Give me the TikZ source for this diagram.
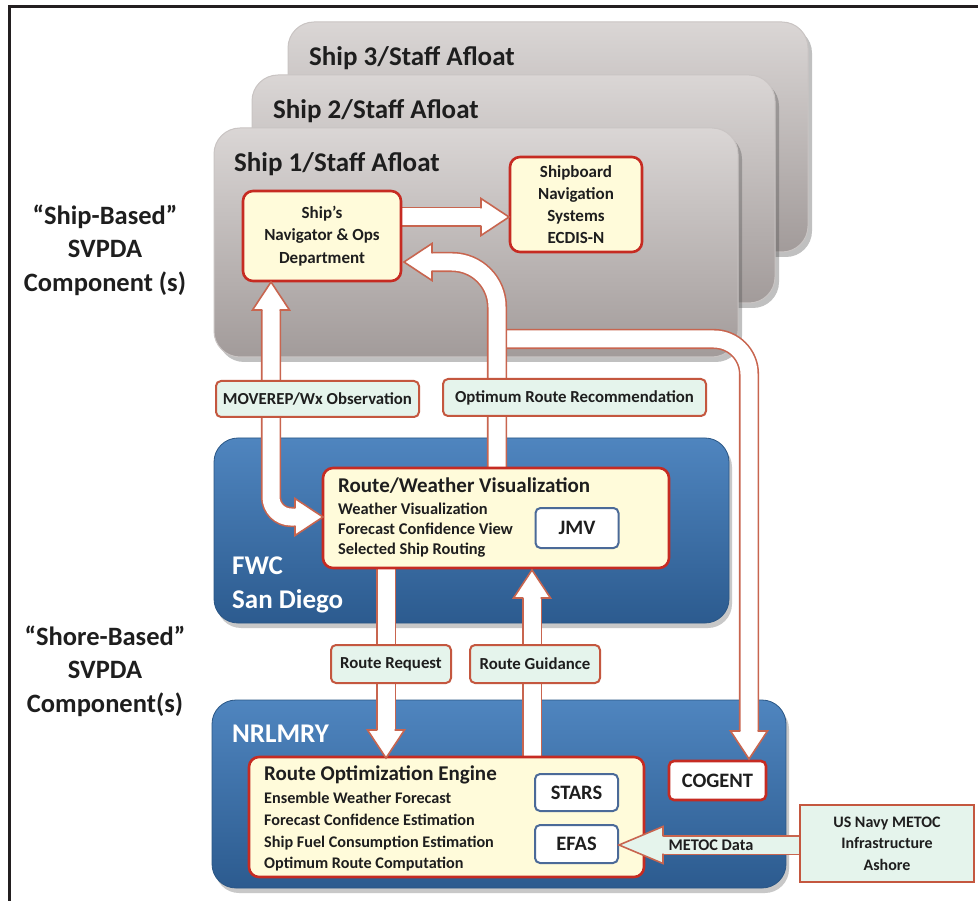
\documentclass[tikz,border=0pt]{standalone}
\usepackage{fontspec}
\setmainfont{Carlito}
\usetikzlibrary{shadows}
\definecolor{shiptop}{HTML}{DAD6D5}
\definecolor{shipbot}{HTML}{A29B9A}
\definecolor{shipedge}{HTML}{C9C4C3}
\definecolor{bluetop}{HTML}{4F85BF}
\definecolor{bluebot}{HTML}{2C5B8F}
\definecolor{blueedge}{HTML}{2A5685}
\definecolor{cream}{HTML}{FFFBDA}
\definecolor{boxred}{HTML}{C62B22}
\definecolor{lblred}{HTML}{C4573F}
\definecolor{mint}{HTML}{E5F4EC}
\definecolor{arrowred}{HTML}{C8654F}
\definecolor{toolblue}{HTML}{4B6A98}
\definecolor{ink}{HTML}{1E1E1E}
\definecolor{framecol}{HTML}{231F20}
\tikzset{
  shipbox/.style={rounded corners=26pt, top color=shiptop, bottom color=shipbot, draw=shipedge, line width=1pt, inner sep=0pt, outer sep=0pt, anchor=north west,
    drop shadow={shadow xshift=4pt, shadow yshift=-5pt, opacity=0.35, fill=black!70}},
  bluebox/.style={rounded corners=24pt, top color=bluetop, bottom color=bluebot, draw=blueedge, line width=0.8pt, inner sep=0pt, outer sep=0pt, anchor=north west,
    drop shadow={shadow xshift=3pt, shadow yshift=-5pt, opacity=0.3, fill=black!70}},
  yelbox/.style={rounded corners=10pt, fill=cream, draw=boxred, line width=2.6pt, inner sep=0pt, outer sep=0pt, text=ink, align=center},
  lblbox/.style={rounded corners=5pt, fill=mint, draw=lblred, line width=2pt, inner sep=0pt, outer sep=0pt, text=ink, font=\fontsize{16.8}{20}\selectfont\bfseries},
  toolbox/.style={rounded corners=5pt, fill=white, draw=toolblue, line width=2pt, inner sep=0pt, outer sep=0pt, text=ink, font=\fontsize{20.5}{24}\selectfont\bfseries},
  shiptitle/.style={text=ink, inner sep=0pt, font=\fontsize{27}{30}\selectfont\bfseries},
  sidetext/.style={text=ink, inner sep=0pt, align=center, font=\fontsize{26.5}{33.5}\selectfont\bfseries},
  whitetext/.style={text=white, inner sep=0pt, align=left, font=\fontsize{27}{34}\selectfont\bfseries},
  boxtitle/.style={text=ink, inner sep=0pt, font=\fontsize{21}{24}\selectfont\bfseries},
  boxlines/.style={text=ink, inner sep=0pt, align=left, font=\fontsize{16.4}{20}\selectfont\bfseries},
  shaft/.style={draw=arrowred, line width=1.6pt, double=white, double distance=17pt},
  mshaft/.style={draw=arrowred, line width=1.6pt, double=mint, double distance=17pt},
  bhead/.pic={
    \fill[white] (-28,-8.7) -- (-28,-18.5) -- (0,0) -- (-28,18.5) -- (-28,8.7) -- cycle;
    \draw[arrowred, line width=1.6pt, line join=miter] (-28,-8.6) -- (-28,-18.5) -- (0,0) -- (-28,18.5) -- (-28,8.6);
  },
  mhead/.pic={
    \fill[mint] (-44,-8.7) -- (-44,-18.5) -- (0,0) -- (-44,18.5) -- (-44,8.7) -- cycle;
    \draw[arrowred, line width=1.6pt, line join=miter] (-44,-8.6) -- (-44,-18.5) -- (0,0) -- (-44,18.5) -- (-44,8.6);
  }
}
\begin{document}
\begin{tikzpicture}[x=1pt,y=-1pt]
\useasboundingbox (0,0) rectangle (978,901);
\fill[white] (0,0) rectangle (978,901);
\draw[line width=3pt, framecol] (978,7) -- (9,7) -- (9,901);

% side captions
\node[sidetext] (shiplbl) at (105,250) {“Ship-Based”\\SVPDA\\Component (s)};
\node[sidetext] (shorelbl) at (105,671) {“Shore-Based”\\SVPDA\\Component(s)};

% ship boxes
\node[shipbox, minimum width=520pt, minimum height=230pt] (ship3) at (288,22) {};
\node[shiptitle, anchor=base west] (ship3t) at (309,66) {Ship 3/Staff Afloat};
\node[shipbox, minimum width=523pt, minimum height=228pt] (ship2) at (252,75) {};
\node[shiptitle, anchor=base west] (ship2t) at (273,119) {Ship 2/Staff Afloat};
\node[shipbox, minimum width=524pt, minimum height=229pt] (ship1) at (214,128) {};
\node[shiptitle, anchor=base west] (ship1t) at (234,172) {Ship 1/Staff Afloat};

% shore boxes
\node[bluebox, minimum width=515pt, minimum height=185pt] (fwc) at (214,438) {};
\node[whitetext, anchor=west] (fwct) at (232,585) {FWC\\San Diego};
\node[bluebox, minimum width=574pt, minimum height=188pt] (nrl) at (212,700) {};
\node[whitetext, anchor=base west] (nrlt) at (232,742) {NRLMRY};

% arrow shafts
\coordinate (cogstart) at (497,339);
\draw[shaft, rounded corners=35pt] (cogstart) -- (749,339) -- (749,732);
\draw[shaft, rounded corners=45pt] (497,470) -- (497,262) -- (432,262);
\draw[shaft, rounded corners=20pt] (271,309) -- (271,517) -- (296,517);
\draw[shaft] (401,217) -- (482,217);
\draw[shaft] (386,568) -- (386,731);
\draw[shaft] (532,757) -- (532,596);
\draw[mshaft] (800,845) -- (662,845);

% ship boxes contents
\node[yelbox, minimum width=158pt, minimum height=90pt, anchor=north west, font=\fontsize{17}{22.5}\selectfont\bfseries] (nav) at (243,191) {Ship’s\\Navigator \& Ops\\Department};
\node[yelbox, minimum width=132pt, minimum height=95pt, anchor=north west, font=\fontsize{17}{22}\selectfont\bfseries] (sbn) at (510,157) {Shipboard\\Navigation\\Systems\\ECDIS-N};

% FWC contents
\node[yelbox, minimum width=346pt, minimum height=100pt, anchor=north west] (rw) at (323,468) {};
\node[boxtitle, anchor=base west] (rwt) at (338,492) {Route/Weather Visualization};
\node[boxlines, anchor=west] (rwl) at (338,530) {Weather Visualization\\Forecast Confidence View\\Selected Ship Routing};
\node[toolbox, minimum width=83pt, minimum height=40pt] (jmv) at (577,528) {JMV};

% NRLMRY contents
\node[yelbox, minimum width=395pt, minimum height=120pt, anchor=north west] (roe) at (249,757) {};
\node[boxtitle, anchor=base west] (roet) at (264,780) {Route Optimization Engine};
\node[boxlines, anchor=west, font=\fontsize{16.2}{21.7}\selectfont\bfseries] (roel) at (264,832) {Ensemble Weather Forecast\\Forecast Confidence Estimation\\Ship Fuel Consumption Estimation\\Optimum Route Computation};
\node[toolbox, minimum width=83pt, minimum height=37pt] (stars) at (576.5,792.5) {STARS};
\node[toolbox, minimum width=83pt, minimum height=38pt] (efas) at (576.5,844) {EFAS};
\node[yelbox, fill=white, rounded corners=5pt, minimum width=97pt, minimum height=39pt, font=\fontsize{20.5}{24}\selectfont\bfseries] (cogent) at (717.5,780.5) {COGENT};
\node[lblbox, rounded corners=0pt, align=center, minimum width=174pt, minimum height=77pt, font=\fontsize{16}{21.5}\selectfont\bfseries] (usn) at (887,843.5) {US Navy METOC\\Infrastructure\\Ashore};

% arrow heads
\pic at (509,217) {bhead};
\pic[rotate=180] at (404,262) {bhead};
\pic[rotate=90] at (271,282) {bhead};
\pic at (323,517) {bhead};
\pic[rotate=-90] at (749,759) {bhead};
\pic[rotate=-90] at (386,758) {bhead};
\pic[rotate=90] at (532,570) {bhead};
\pic[rotate=180] at (619,845) {mhead};
\node[text=ink, inner sep=0pt, font=\fontsize{16.3}{20}\selectfont\bfseries] (metoc) at (711,845) {METOC Data};

% labels on arrows
\node[lblbox, minimum width=203pt, minimum height=36pt] (movlbl) at (317.5,399) {MOVEREP/Wx Observation};
\node[lblbox, minimum width=263pt, minimum height=37pt] (optlbl) at (574.5,397.5) {Optimum Route Recommendation};
\node[lblbox, minimum width=120pt, minimum height=38pt] (reqlbl) at (391,664) {Route Request};
\node[lblbox, minimum width=130pt, minimum height=38pt] (guidlbl) at (535,664) {Route Guidance};
\end{tikzpicture}
\end{document}
